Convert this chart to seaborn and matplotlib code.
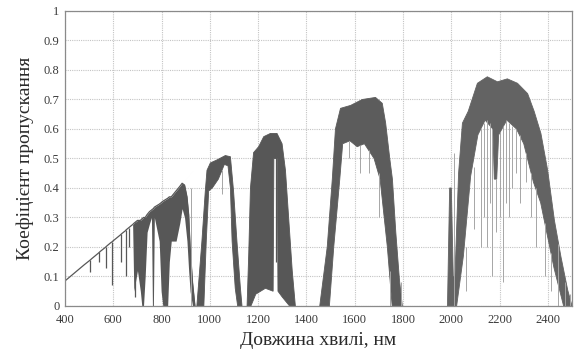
import numpy as np
import matplotlib
matplotlib.use("Agg")
import matplotlib.pyplot as plt
import seaborn as sns

# visible part: thin line with dense absorption bands (fill between low and top)
vis_wl = [400, 480, 500, 503, 506, 510, 538, 542, 546, 566, 570, 574, 590, 594, 598,
          628, 632, 636, 650, 653, 656, 680, 685, 700, 712, 718, 725, 732, 740, 750,
          758, 762, 766, 770, 790, 798, 805, 815, 825, 832, 840, 860, 875, 885, 895,
          905, 912, 918, 928, 938]
vis_top = [0.085, 0.140, 0.153, 0.155, 0.157, 0.160, 0.179, 0.182, 0.185, 0.198, 0.201,
           0.204, 0.215, 0.217, 0.220, 0.240, 0.243, 0.246, 0.255, 0.258, 0.260, 0.276,
           0.280, 0.290, 0.290, 0.295, 0.300, 0.300, 0.310, 0.320, 0.325, 0.328, 0.330,
           0.335, 0.345, 0.350, 0.355, 0.360, 0.365, 0.370, 0.370, 0.390, 0.405, 0.416,
           0.410, 0.370, 0.310, 0.200, 0.080, 0.0]
vis_low = [0.085, 0.140, 0.153, 0.155, 0.157, 0.160, 0.179, 0.182, 0.185, 0.198, 0.201,
           0.204, 0.215, 0.217, 0.220, 0.240, 0.243, 0.246, 0.255, 0.258, 0.260, 0.276,
           0.050, 0.120, 0.050, 0.0, 0.0, 0.100, 0.250, 0.280, 0.300, 0.0, 0.0,
           0.300, 0.220, 0.050, 0.0, 0.0, 0.0, 0.150, 0.220, 0.220, 0.280, 0.330,
           0.300, 0.220, 0.120, 0.050, 0.0, 0.0]

# NIR windows: outer contour and inner (hollow) contour
b1_out_x = [946, 967, 981, 988, 1002, 1029, 1064, 1085, 1098, 1112, 1126, 1133]
b1_out_y = [0.0, 0.22, 0.39, 0.46, 0.485, 0.495, 0.51, 0.506, 0.39, 0.22, 0.065, 0.0]
b1_in_x = [975, 985, 995, 1010, 1035, 1060, 1075, 1085, 1092, 1105, 1115]
b1_in_y = [0.0, 0.22, 0.39, 0.40, 0.43, 0.48, 0.475, 0.40, 0.22, 0.06, 0.0]

b2_out_x = [1154, 1161, 1168, 1181, 1202, 1223, 1251, 1278, 1299, 1313, 1327, 1341, 1354]
b2_out_y = [0.0, 0.18, 0.40, 0.52, 0.54, 0.574, 0.585, 0.585, 0.55, 0.46, 0.29, 0.12, 0.0]
b2_in_x = [1170, 1190, 1230, 1262, 1265, 1279, 1282, 1300, 1330]
b2_in_y = [0.0, 0.04, 0.06, 0.05, 0.50, 0.50, 0.05, 0.03, 0.0]

b3_out_x = [1455, 1486, 1507, 1520, 1541, 1583, 1631, 1686, 1714, 1728, 1745, 1756, 1770, 1785, 1797]
b3_out_y = [0.0, 0.20, 0.43, 0.60, 0.67, 0.68, 0.70, 0.707, 0.687, 0.62, 0.50, 0.43, 0.25, 0.09, 0.0]
b3_in_x = [1495, 1513, 1538, 1550, 1580, 1610, 1640, 1680, 1705, 1735, 1755]
b3_in_y = [0.0, 0.20, 0.43, 0.55, 0.56, 0.54, 0.55, 0.50, 0.43, 0.20, 0.0]

b4_out_x = [1984, 1993, 2000, 2008, 2015, 2030, 2046, 2070, 2090, 2108, 2149, 2191, 2232,
            2274, 2316, 2343, 2371, 2399, 2427, 2454, 2482, 2500]
b4_out_y = [0.0, 0.40, 0.40, 0.10, 0.10, 0.45, 0.62, 0.66, 0.71, 0.755, 0.777, 0.76, 0.77,
            0.755, 0.72, 0.66, 0.585, 0.46, 0.29, 0.167, 0.054, 0.0]
b4_in_x = [2000, 2022, 2050, 2080, 2110, 2140, 2172, 2178, 2188, 2196, 2230, 2270, 2300,
           2340, 2370, 2425, 2465]
b4_in_y = [0.0, 0.0, 0.17, 0.44, 0.58, 0.63, 0.60, 0.43, 0.43, 0.58, 0.63, 0.60, 0.55,
           0.42, 0.35, 0.13, 0.0]

# single absorption lines: dark dips on the thin line
dip_wl = [504, 542, 570, 594, 632, 653, 665, 690, 1272]
dip_lo = [0.115, 0.15, 0.13, 0.07, 0.15, 0.10, 0.20, 0.03, 0.15]
dip_hi = [0.157, 0.182, 0.201, 0.217, 0.243, 0.258, 0.265, 0.285, 0.55]

# lighter grey lines hanging below the dark parts of the windows
lt_wl = [921, 1050, 1575, 1620, 1660, 1700, 1745, 1790,
         2011, 2060, 2094, 2122, 2135, 2149, 2160, 2170, 2184, 2200, 2212, 2225,
         2238, 2252, 2266, 2285, 2309, 2330, 2350, 2390, 2412, 2443, 2470, 2490]
lt_lo = [0.0, 0.38, 0.50, 0.45, 0.45, 0.30, 0.0, 0.0,
         0.0, 0.05, 0.26, 0.20, 0.30, 0.20, 0.35, 0.10, 0.25, 0.30, 0.08, 0.35,
         0.30, 0.40, 0.45, 0.35, 0.42, 0.30, 0.20, 0.10, 0.05, 0.0, 0.0, 0.0]
lt_hi = [0.40, 0.46, 0.56, 0.545, 0.53, 0.45, 0.12, 0.08,
         0.52, 0.20, 0.47, 0.60, 0.62, 0.63, 0.62, 0.60, 0.43, 0.59, 0.61, 0.63,
         0.62, 0.61, 0.60, 0.58, 0.52, 0.45, 0.40, 0.28, 0.18, 0.21, 0.08, 0.04]

x_ticks = [400, 600, 800, 1000, 1200, 1400, 1600, 1800, 2000, 2200, 2400]
y_ticks = [0, 0.1, 0.2, 0.3, 0.4, 0.5, 0.6, 0.7, 0.8, 0.9, 1]
y_tick_labels = ["0", "0.1", "0.2", "0.3", "0.4", "0.5", "0.6", "0.7", "0.8", "0.9", "1"]

DARK = "#575757"
LIGHT = "#a6a6a6"
band_colors = [DARK, DARK, "#5c5c5c", "#636363"]

sns.set_style("white")
plt.rcParams["font.family"] = ["Liberation Serif", "DejaVu Serif"]

fig = plt.figure(figsize=(5.79, 3.57), dpi=100)
ax = fig.add_axes([0.1123, 0.1429, 0.8757, 0.8263])

ax.fill_between(vis_wl, vis_low, vis_top, color=DARK, lw=0)
sns.lineplot(x=vis_wl, y=vis_top, ax=ax, color=DARK, lw=0.9, sort=False, estimator=None)

bands = [(b1_out_x, b1_out_y, b1_in_x, b1_in_y),
         (b2_out_x, b2_out_y, b2_in_x, b2_in_y),
         (b3_out_x, b3_out_y, b3_in_x, b3_in_y),
         (b4_out_x, b4_out_y, b4_in_x, b4_in_y)]
for (ox, oy, ix, iy), c in zip(bands, band_colors):
    px = list(ox) + list(ix)[::-1]
    py = list(oy) + list(iy)[::-1]
    ax.fill(px, py, facecolor=c, edgecolor=c, lw=0.6)

ax.vlines(lt_wl, lt_lo, lt_hi, color=LIGHT, lw=0.7)
ax.vlines(dip_wl, dip_lo, dip_hi, color=DARK, lw=0.9)

ax.set_xlim(400, 2500)
ax.set_ylim(0, 1)
ax.set_xticks(x_ticks)
ax.set_yticks(y_ticks)
ax.set_yticklabels(y_tick_labels)
ax.tick_params(length=0, labelsize=9, labelcolor="#3a3a3a")
ax.tick_params(axis="x", pad=6)
ax.tick_params(axis="y", pad=4)
ax.grid(True, color="#c4c4c4", linestyle=(0, (1, 1)), lw=0.8)
ax.set_axisbelow(True)
for s in ax.spines.values():
    s.set_color("#8a8a8a")
    s.set_linewidth(0.9)

ax.set_xlabel("Довжина хвилі, нм", fontsize=14, color="#2a2a2a", labelpad=4)
ax.set_ylabel("Коефіцієнт пропускання", fontsize=14, color="#2a2a2a", labelpad=7)

fig.savefig("out.png", dpi=100)
